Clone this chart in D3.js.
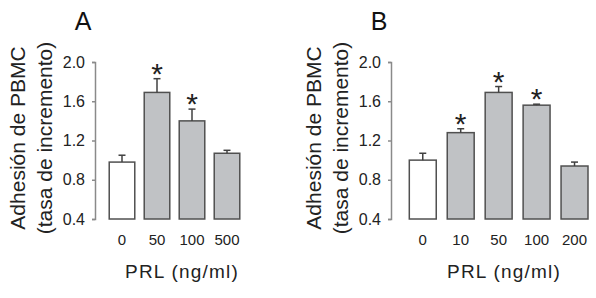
<!DOCTYPE html>
<html>
<head>
<meta charset="utf-8">
<script src="https://cdn.jsdelivr.net/npm/d3@7"></script>
<style>
  body { margin: 0; background: #fff; }
  svg { display: block; font-family: "Liberation Sans", Arial, sans-serif; }
</style>
</head>
<body>
<div id="chart"></div>
<script>
// panel A
const catsA = ["0", "50", "100", "500"];
const meanA = [0.98, 1.69, 1.40, 1.07];
const errA = [1.05, 1.83, 1.52, 1.10];
const starA = [false, true, true, false];

// panel B
const catsB = ["0", "10", "50", "100", "200"];
const meanB = [1.00, 1.28, 1.69, 1.56, 0.94];
const errB = [1.07, 1.32, 1.75, 1.57, 0.98];
const starB = [false, true, true, true, false];

const yTicks = [0.4, 0.8, 1.2, 1.6, 2.0];

const W = 596, H = 298;
const svg = d3.select("#chart").append("svg")
    .attr("width", W).attr("height", H);

const y = d3.scaleLinear().domain([0.4, 2.0]).range([219, 62]);

function panel(cfg) {
    const g = svg.append("g");
    const x = d3.scaleBand().domain(cfg.cats).range(cfg.range)
        .paddingInner(cfg.pad).paddingOuter(cfg.pad / 2);

    // y axis
    const ya = g.append("g")
        .attr("transform", `translate(${cfg.axisX},0)`)
        .call(d3.axisLeft(y).tickValues(yTicks).tickFormat(d3.format(".1f"))
            .tickSize(3).tickSizeOuter(3).tickPadding(7));
    ya.selectAll("path, line").attr("stroke", "#8a8a8a").attr("stroke-width", 1.5);
    ya.selectAll("text").attr("font-size", 16).attr("fill", "#222")
        .attr("font-family", "Liberation Sans, Arial, sans-serif");

    // bars
    const data = cfg.cats.map((c, i) => ({c, m: cfg.mean[i], e: cfg.err[i], s: cfg.star[i], i}));
    g.selectAll("rect.bar").data(data).join("rect")
        .attr("class", "bar")
        .attr("x", d => x(d.c))
        .attr("width", x.bandwidth())
        .attr("y", d => y(d.m))
        .attr("height", d => y(0.4) - y(d.m))
        .attr("fill", d => d.i === 0 ? "#fff" : "#c0c2c5")
        .attr("stroke", "#505050").attr("stroke-width", 1.5);

    // error bars (upper only)
    const eb = g.selectAll("g.err").data(data).join("g").attr("class", "err")
        .attr("stroke", "#404040").attr("stroke-width", 1.5);
    eb.append("line")
        .attr("x1", d => x(d.c) + x.bandwidth() / 2)
        .attr("x2", d => x(d.c) + x.bandwidth() / 2)
        .attr("y1", d => y(d.m)).attr("y2", d => y(d.e));
    eb.append("line")
        .attr("x1", d => x(d.c) + x.bandwidth() / 2 - 3.5)
        .attr("x2", d => x(d.c) + x.bandwidth() / 2 + 3.5)
        .attr("y1", d => y(d.e)).attr("y2", d => y(d.e));

    // significance stars
    g.selectAll("text.star").data(data.filter(d => d.s)).join("text")
        .attr("class", "star")
        .attr("x", d => x(d.c) + x.bandwidth() / 2)
        .attr("y", d => y(d.e) + 5)
        .attr("text-anchor", "middle")
        .attr("font-size", 30).attr("fill", "#222")
        .text("*");

    // x category labels
    const xa = g.append("g")
        .attr("transform", `translate(0,${y(0.4)})`)
        .call(d3.axisBottom(x).tickSize(0).tickPadding(15));
    xa.select(".domain").remove();
    xa.selectAll("text").attr("font-size", 15).attr("fill", "#222")
        .attr("font-family", "Liberation Sans, Arial, sans-serif");

    // x title
    g.append("text")
        .attr("x", cfg.xTitleX).attr("y", 278)
        .attr("text-anchor", "middle")
        .attr("font-size", 19).attr("letter-spacing", 1.2).attr("fill", "#222")
        .text("PRL (ng/ml)");

    // y title (two lines)
    const yt = g.append("text")
        .attr("transform", `translate(${cfg.yTitleX},138) rotate(-90)`)
        .attr("text-anchor", "middle")
        .attr("font-size", 21).attr("fill", "#222");
    yt.append("tspan").attr("x", 0).attr("y", 0).text("Adhesión de PBMC");
    yt.append("tspan").attr("x", 0).attr("y", 27).text("(tasa de incremento)");

    // panel letter
    g.append("text")
        .attr("x", cfg.letterX).attr("y", 30)
        .attr("text-anchor", "middle")
        .attr("font-size", 25).attr("fill", "#111")
        .text(cfg.letter);
}

panel({cats: catsA, mean: meanA, err: errA, star: starA,
       range: [104.5, 244.5], pad: 0.27, axisX: 95,
       xTitleX: 182, yTitleX: 24.5, letterX: 83, letter: "A"});
panel({cats: catsB, mean: meanB, err: errB, star: starB,
       range: [403.8, 593.5], pad: 0.29, axisX: 391,
       xTitleX: 504, yTitleX: 320.5, letterX: 379, letter: "B"});
</script>
</body>
</html>
